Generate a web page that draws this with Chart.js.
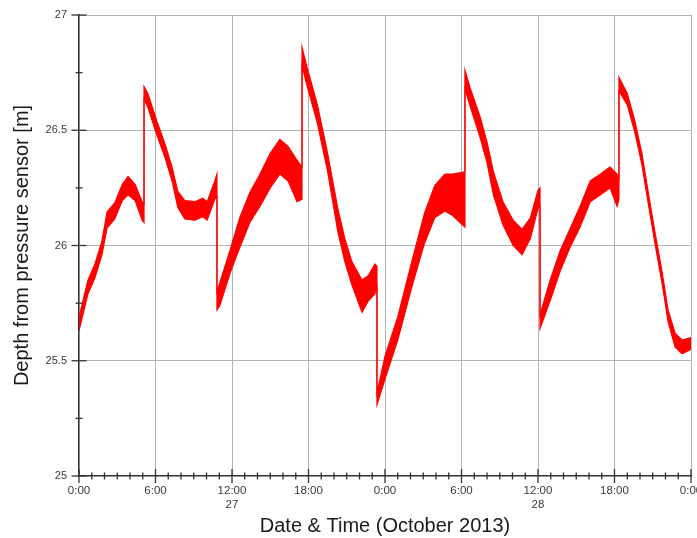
<!DOCTYPE html>
<html>
<head>
<meta charset="utf-8">
<script src="https://cdn.jsdelivr.net/npm/chart.js@4.4.1/dist/chart.umd.min.js"></script>
<style>
  html, body { margin: 0; padding: 0; background: #fff; }
  #wrap { width: 697px; height: 538px; position: relative; }
</style>
</head>
<body>
<div id="wrap"><canvas id="c" width="697" height="538"></canvas></div>
<script>
// Hours since 27 Oct 2013 0:00 (repeated hour = step jump in the record)
const hours = [
  0, 0.7, 1.25, 1.8, 2.2, 2.8, 3.4, 3.85, 4.4, 4.95, 5.1,
  5.1, 5.4, 6.1, 6.75, 7.3, 7.75, 8.3, 9.1, 9.7, 10.05, 10.65, 10.82,
  10.82, 11.05, 11.85, 12.6, 13.4, 14.2, 15.0, 15.75, 16.4, 17.1, 17.49,
  17.49, 17.9, 18.7, 19.5, 20.3, 20.85, 21.4, 22.2, 22.7, 23.2, 23.37,
  23.37, 24.0, 25.0, 26.1, 27.1, 27.9, 28.7, 29.3, 30.27,
  30.27, 30.7, 31.45, 32.0, 32.5, 33.25, 34.05, 34.75, 35.4, 36.0, 36.16,
  36.16, 36.95, 37.75, 38.5, 39.3, 40.1, 40.9, 41.65, 42.2, 42.35,
  42.35, 43.0, 43.6, 44.15, 44.65, 45.2, 45.75, 46.2, 46.75, 47.3, 48
];
// Upper edge of the noisy depth trace [m]
const depthUpper = [
  25.69, 25.85, 25.92, 26.02, 26.145, 26.185, 26.265, 26.30, 26.265, 26.19, 26.18,
  26.69, 26.66, 26.54, 26.44, 26.34, 26.235, 26.195, 26.19, 26.205, 26.19, 26.28, 26.31,
  25.80, 25.84, 25.98, 26.12, 26.23, 26.31, 26.40, 26.46, 26.43, 26.37, 26.34,
  26.86, 26.77, 26.61, 26.40, 26.16, 26.03, 25.93, 25.85, 25.87, 25.92, 25.91,
  25.36, 25.52, 25.69, 25.93, 26.14, 26.26, 26.31, 26.31, 26.32,
  26.76, 26.68, 26.56, 26.45, 26.32, 26.19, 26.11, 26.07, 26.12, 26.24, 26.25,
  25.70, 25.85, 25.98, 26.07, 26.17, 26.28, 26.31, 26.34, 26.31, 26.29,
  26.73, 26.66, 26.54, 26.40, 26.23, 26.05, 25.88, 25.72, 25.62, 25.59, 25.60
];
// Lower edge of the noisy depth trace [m]
const depthLower = [
  25.63, 25.79, 25.86, 25.96, 26.075, 26.115, 26.195, 26.22, 26.195, 26.11, 26.10,
  26.635, 26.60, 26.48, 26.38, 26.28, 26.165, 26.115, 26.11, 26.125, 26.11, 26.20, 26.21,
  25.72, 25.74, 25.88, 25.99, 26.10, 26.17, 26.25, 26.31, 26.28, 26.19, 26.20,
  26.78, 26.69, 26.53, 26.32, 26.06, 25.93, 25.83, 25.71, 25.76, 25.79, 25.82,
  25.31, 25.42, 25.59, 25.82, 26.01, 26.12, 26.15, 26.13, 26.08,
  26.68, 26.60, 26.47, 26.36, 26.22, 26.09, 26.00, 25.96, 26.03, 26.16, 26.17,
  25.64, 25.76, 25.89, 25.99, 26.08, 26.19, 26.22, 26.25, 26.17, 26.20,
  26.67, 26.61, 26.49, 26.35, 26.18, 26.00, 25.83, 25.67, 25.56, 25.53, 25.55
];
// Axis tick labels
const xTickHours = [0, 6, 12, 18, 24, 30, 36, 42, 48];
const xTickTimes = ['0:00', '6:00', '12:00', '18:00', '0:00', '6:00', '12:00', '18:00', '0:00'];
const xTickDays  = ['', '', '27', '', '', '', '28', '', ''];
const yTickValues = [25, 25.5, 26, 26.5, 27];
const yTickLabels = ['25', '25.5', '26', '26.5', '27'];

const upperPts = hours.map((h, i) => ({ x: h, y: depthUpper[i] }));
const lowerPts = hours.map((h, i) => ({ x: h, y: depthLower[i] }));

const RED = '#ff0000';
const AXIS = '#333333';
const GRID = '#b4b4b4';
const FONT = 'Liberation Sans, Arial, sans-serif';

const near = (a, b) => Math.abs(a - b) < 1e-6;

const crossTicks = {
  id: 'crossTicks',
  afterDraw(chart) {
    const { ctx, scales: { x, y } } = chart;
    ctx.save();
    ctx.strokeStyle = AXIS;
    ctx.lineWidth = 1.3;
    x.ticks.forEach(t => {
      const px = x.getPixelForValue(t.value);
      const major = xTickHours.some(v => near(v, t.value));
      const l = major ? 7 : 3.5;
      ctx.beginPath();
      ctx.moveTo(px, x.top - l);
      ctx.lineTo(px, x.top + l);
      ctx.stroke();
    });
    y.ticks.forEach(t => {
      const py = y.getPixelForValue(t.value);
      const major = yTickValues.some(v => near(v, t.value));
      const l = major ? 7.5 : 3.5;
      ctx.beginPath();
      ctx.moveTo(y.right - l, py);
      ctx.lineTo(y.right + l, py);
      ctx.stroke();
    });
    ctx.restore();
  }
};

new Chart(document.getElementById('c'), {
  type: 'line',
  data: {
    datasets: [
      {
        data: upperPts,
        borderColor: RED,
        backgroundColor: RED,
        borderWidth: 1.2,
        pointRadius: 0,
        tension: 0,
        fill: '+1'
      },
      {
        data: lowerPts,
        borderColor: RED,
        backgroundColor: RED,
        borderWidth: 1.2,
        pointRadius: 0,
        tension: 0,
        fill: false
      }
    ]
  },
  plugins: [crossTicks],
  options: {
    responsive: false,
    animation: false,
    devicePixelRatio: 1,
    layout: { padding: { top: 15, right: 6, left: 0, bottom: 0 } },
    plugins: { legend: { display: false }, tooltip: { enabled: false } },
    scales: {
      x: {
        type: 'linear',
        min: 0,
        max: 48,
        afterFit: s => { s.height = 62; s.paddingLeft = 0; s.paddingRight = 0; },
        border: { display: true, color: AXIS, width: 1.6 },
        grid: {
          drawTicks: false,
          color: c => {
            const v = c.tick.value;
            if (near(v, 0)) return 'rgba(0,0,0,0)';
            return xTickHours.some(h => near(h, v)) ? GRID : 'rgba(0,0,0,0)';
          },
          lineWidth: 1
        },
        ticks: {
          stepSize: 1,
          autoSkip: false,
          maxRotation: 0,
          padding: 8,
          color: '#3a3a3a',
          font: { family: FONT, size: 11.5 },
          callback: v => {
            const i = xTickHours.findIndex(h => near(h, v));
            if (i < 0) return '';
            return xTickDays[i] ? [xTickTimes[i], xTickDays[i]] : xTickTimes[i];
          }
        },
        title: {
          display: true,
          text: 'Date & Time (October 2013)',
          color: '#1a1a1a',
          font: { family: FONT, size: 20 },
          padding: { top: 0, bottom: 0 }
        }
      },
      y: {
        type: 'linear',
        min: 25,
        max: 27,
        afterFit: s => { s.width = 79; s.paddingTop = 0; s.paddingBottom = 0; },
        border: { display: true, color: AXIS, width: 1.6 },
        grid: {
          drawTicks: false,
          color: c => {
            const v = c.tick.value;
            if (near(v, 25)) return 'rgba(0,0,0,0)';
            return yTickValues.some(t => near(t, v)) ? GRID : 'rgba(0,0,0,0)';
          },
          lineWidth: 1
        },
        ticks: {
          stepSize: 0.25,
          autoSkip: false,
          padding: 12,
          color: '#3a3a3a',
          font: { family: FONT, size: 11 },
          callback: v => {
            const i = yTickValues.findIndex(t => near(t, v));
            return i < 0 ? '' : yTickLabels[i];
          }
        },
        title: {
          display: true,
          text: 'Depth from pressure sensor [m]',
          color: '#1a1a1a',
          font: { family: FONT, size: 20 },
          padding: { top: 10, bottom: 0 }
        }
      }
    }
  }
});
</script>
</body>
</html>
